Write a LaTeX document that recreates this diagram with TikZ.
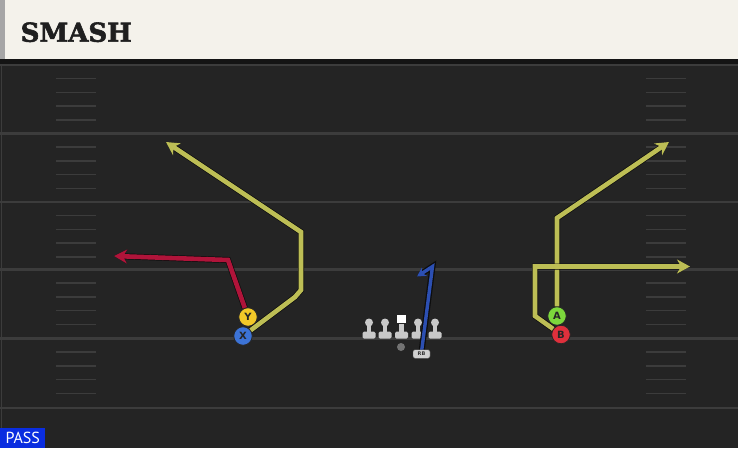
\documentclass[tikz,border=0pt]{standalone}
\usepackage{fontspec}
\usetikzlibrary{arrows.meta}
\newfontfamily\titlefont{DejaVu Serif}[FakeBold=2.2]
\newfontfamily\plfont{DejaVu Sans}
\newfontfamily\tagfont{PT Sans}
\definecolor{fieldbg}{HTML}{242424}
\definecolor{yardline}{HTML}{3C3C3C}
\definecolor{headbg}{HTML}{F4F2EB}
\definecolor{routeyel}{HTML}{BDBE55}
\definecolor{routered}{HTML}{B0143A}
\definecolor{routeblue}{HTML}{2C4FB2}
\definecolor{lineman}{HTML}{C9C9C9}
\tikzset{
  route/.style={line width=4.6pt,preaction={draw=black!95,line width=6pt}},
  player/.style={circle,draw=black!85,line width=0.8pt,minimum size=18.5pt,inner sep=0pt,font=\plfont\bfseries\fontsize{10}{10}\selectfont,text=black!85},
}
\begin{document}
\begin{tikzpicture}[x=1pt,y=-1pt,>={Stealth[length=13pt,width=14pt,inset=4pt]}]
		\useasboundingbox (0,0) rectangle (738,448);
		% field
		\fill[fieldbg] (0,59) rectangle (738,448);
		\fill[black!92] (0,59) rectangle (738,64);
		\draw[yardline,line width=1.2pt] (1.5,64)--(1.5,448);
		\foreach \y in {65,133.5,202,269.5,338.5,408}
			\draw[yardline,line width=2.2pt] (0,\y)--(738,\y);
		\foreach \y in {65,133.5,202,269.5,338.5}
			\foreach \k in {1,2,3,4}{
				\draw[yardline,line width=1.5pt] (56,\y+13.7*\k)--(96,\y+13.7*\k);
				\draw[yardline,line width=1.5pt] (646,\y+13.7*\k)--(686,\y+13.7*\k);
			}
		% header
		\fill[headbg] (0,0) rectangle (738,59);
		\fill[gray!70] (0,0) rectangle (5,59);
		\node[anchor=base west,inner sep=0pt,font=\titlefont\bfseries\fontsize{26}{26}\selectfont,text=black!88] (title) at (20.5,41.7) {SMASH};
		% offensive line
		\foreach \x in {369,385,418,435}{
			\fill[lineman] (\x,322.5) circle (4);
		}
		\fill[white] (397,314.5) rectangle (406,323);
		\foreach \x in {369,385,401.5,418,435}{
			\fill[lineman] (\x-2.2,324) rectangle (\x+2.2,333);
			\fill[lineman,rounded corners=1.5pt] (\x-6.5,331.5) rectangle (\x+6.5,338.5);
		}
		\node[circle,fill=black!55,minimum size=8pt,inner sep=0pt] (qb) at (401,347) {};
		% players
		\node[player,fill={rgb,255:red,242;green,200;blue,40}] (yr) at (248,317) {Y};
		\node[player,fill={rgb,255:red,60;green,115;blue,214}] (xr) at (243,336) {X};
		\node[player,fill={rgb,255:red,124;green,216;blue,60}] (ar) at (557,316) {A};
		\node[player,fill={rgb,255:red,222;green,48;blue,60}] (br) at (561,334.5) {B};
		% routes
		\draw[route,routered,->] (yr)--(228,260)--(114,256);
		\draw[route,routeyel,->] (xr)--(295,297)--(301,290)--(301,232)--(166,142);
		\draw[route,routeyel,->] (ar)--(557,218)--(669,142);
		\draw[route,routeyel,->] (br)--(535,316)--(535,266.5)--(690,266.5);
		\draw[route,routeblue,line width=3.4pt,preaction={draw=none},->,>={Stealth[length=9pt,width=10pt,inset=3pt]}] (421.5,352)--(432.5,266.5)--(417,276.5);
		\node[draw=black!70,fill=black!18,rounded corners=2pt,minimum width=17pt,minimum height=8.5pt,inner sep=0pt,font=\plfont\bfseries\fontsize{5}{5}\selectfont,text=black!80] (rb) at (421.5,354) {RB};
		% play type
		\node[fill={rgb,255:red,10;green,45;blue,224},anchor=south west,minimum width=45pt,minimum height=20pt,inner sep=0pt,font=\tagfont\fontsize{16}{16}\selectfont,text=white] (tag) at (0,448) {PASS};
	\end{tikzpicture}
\end{document}
